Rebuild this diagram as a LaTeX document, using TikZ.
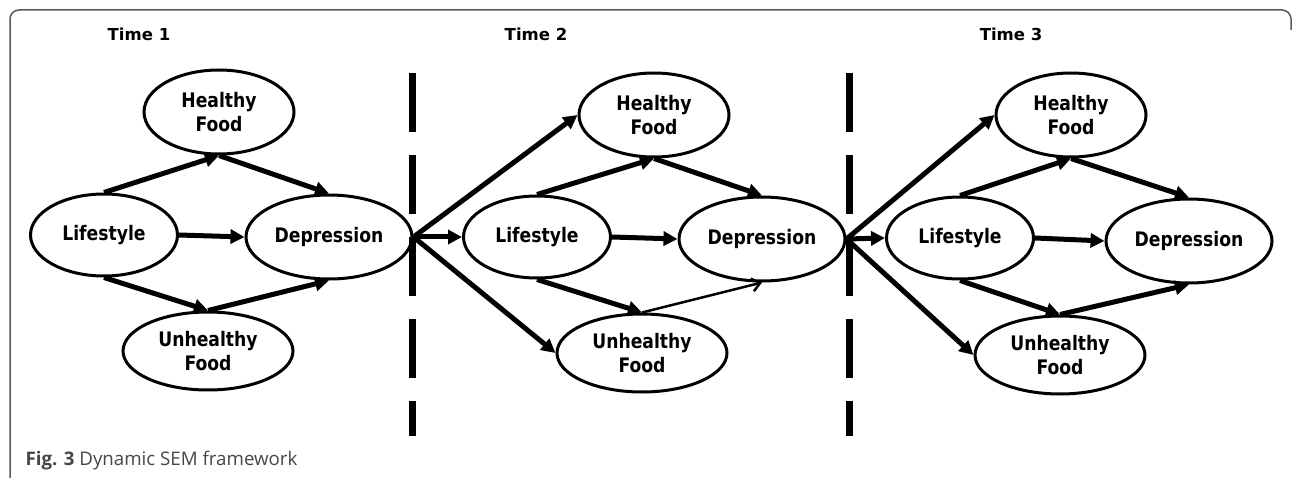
\documentclass[tikz,border=0pt]{standalone}
\usepackage{fontspec}
\newfontfamily\dejavu{DejaVu Sans}
\newfontfamily\narrowfont[FakeStretch=0.86]{DejaVu Sans}
\newfontfamily\capfont{Open Sans}
\usetikzlibrary{arrows.meta, shapes.geometric, positioning}

\definecolor{framegray}{RGB}{90,90,90}
\definecolor{capgray}{RGB}{70,70,70}

\begin{document}
\begin{tikzpicture}[x=1pt, y=-1pt,
    var/.style={draw, ellipse, line width=3pt, inner sep=0pt, align=center,
        font=\narrowfont\bfseries\fontsize{20}{24}\selectfont},
    food/.style={var, minimum width=150pt, minimum height=84pt},
    junk/.style={var, minimum width=170pt, minimum height=78pt},
    life/.style={var, minimum width=147pt, minimum height=82pt},
    dep/.style={var, minimum width=166pt, minimum height=84pt},
    path/.style={line width=5pt, -{Triangle[length=14pt,width=14pt]}},
    weak/.style={line width=2.5pt, -{Straight Barb[length=8pt,width=13pt]}},
    sep/.style={line width=7pt, dash pattern=on 59pt off 23pt},
    stamp/.style={font=\dejavu\bfseries\fontsize{16.5}{20}\selectfont}]
    \useasboundingbox (0,0) rectangle (1292,478);

    % frame and caption
    \draw[framegray, line width=1.5pt, rounded corners=9pt]
        (10,480) -- (10,10) -- (1291,10) -- (1291,30);
    \node[anchor=west, text=capgray, font=\capfont\fontsize{18.7}{22}\selectfont]
        (cap) at (22,461) {\textbf{Fig. 3} Dynamic SEM framework};

    % time labels
    \node[stamp] (t1) at (139,34) {Time 1};
    \node[stamp] (t2) at (536,34) {Time 2};
    \node[stamp] (t3) at (1011,34) {Time 3};

    % time 1
    \node[food] (h1) at (219,112) {Healthy\\Food};
    \node[life] (l1) at (104,235) {Lifestyle};
    \node[dep] (d1) at (329,237) {Depression};
    \node[junk] (u1) at (208,351) {Unhealthy\\Food};

    % time 2
    \node[food] (h2) at (654,115) {Healthy\\Food};
    \node[life] (l2) at (537,237) {Lifestyle};
    \node[dep] (d2) at (762,239) {Depression};
    \node[junk] (u2) at (642,353) {Unhealthy\\Food};

    % time 3
    \node[food] (h3) at (1071,115) {Healthy\\Food};
    \node[life] (l3) at (960,238) {Lifestyle};
    \node[dep] (d3) at (1189,241) {Depression};
    \node[junk] (u3) at (1060,355) {Unhealthy\\Food};

    % wave separators
    \coordinate (s1a) at (412,73);
    \coordinate (s1b) at (412,436);
    \coordinate (s2a) at (849,73);
    \coordinate (s2b) at (849,436);
    \draw[sep] (s1a) -- (s1b);
    \draw[sep] (s2a) -- (s2b);

    % paths within each wave
    \foreach \t in {1,2,3} {
        \draw[path] (l\t.north) -- (h\t.south);
        \draw[path] (h\t.south) -- (d\t.north);
        \draw[path] (l\t.east) -- (d\t.west);
        \draw[path] (l\t.south) -- (u\t.north);
    }
    \draw[path] (u1.north) -- (d1.south);
    \draw[weak] (u2.north) -- (d2.south);
    \draw[path] (u3.north) -- (d3.south);

    % paths across waves
    \draw[path] (d1.east) -- (h2.west);
    \draw[path] (d1.east) -- (l2.west);
    \draw[path] (d1.east) -- (u2.west);
    \draw[path] (d2.east) -- (h3.west);
    \draw[path] (d2.east) -- (l3.west);
    \draw[path] (d2.east) -- (u3.west);
\end{tikzpicture}
\end{document}
